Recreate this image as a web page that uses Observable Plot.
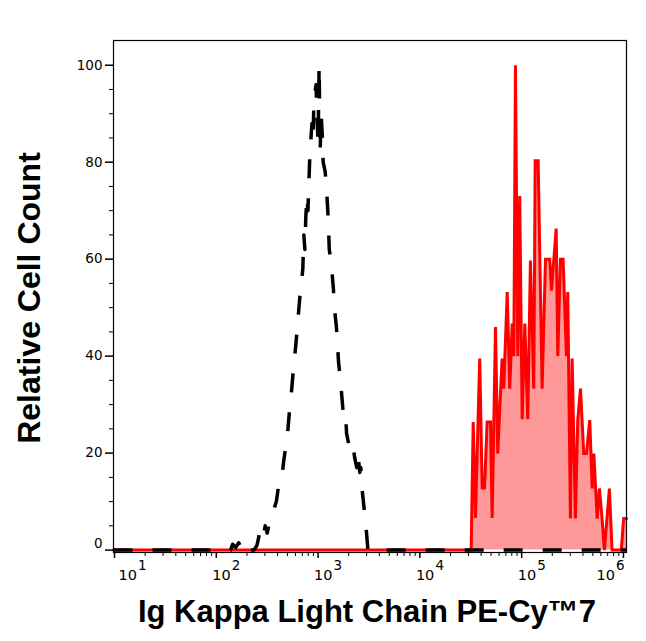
<!DOCTYPE html>
<html>
<head>
<meta charset="utf-8">
<script src="https://cdn.jsdelivr.net/npm/d3@7"></script>
<script src="https://cdn.jsdelivr.net/npm/@observablehq/plot@0.6"></script>
<style>
  html, body { margin: 0; padding: 0; background: #fff; }
</style>
</head>
<body>
<div id="chart"></div>
<script>
// ---- data (x as log10 exponent, y as relative cell count) ----
const blackLog = [0.99, 2.14, 2.16, 2.19, 2.22, 2.25, 2.28, 2.31, 2.37, 2.40, 2.43, 2.46, 2.48, 2.50, 2.53, 2.56, 2.59, 2.61, 2.64, 2.66, 2.68, 2.70, 2.72, 2.74, 2.76, 2.78, 2.80, 2.82, 2.84, 2.85, 2.86, 2.87, 2.88, 2.89, 2.90, 2.92, 2.94, 2.95, 2.96, 2.98, 2.99, 3.00, 3.01, 3.02, 3.03, 3.04, 3.05, 3.07, 3.09, 3.10, 3.11, 3.13, 3.15, 3.16, 3.18, 3.19, 3.20, 3.22, 3.24, 3.25, 3.27, 3.28, 3.30, 3.32, 3.34, 3.36, 3.38, 3.39, 3.41, 3.42, 3.43, 3.45, 3.47, 3.49, 6.03];
const blackCount = [0, 0, 1.2, 0.5, 1.5, 0.3, 1.3, 0, 0, 1, 4, 2.5, 5, 3.5, 6.5, 8, 10, 13, 14, 18, 21, 24, 29, 33, 38, 42, 47, 52, 56, 58, 65, 62, 69, 73, 70, 82, 88, 85, 93, 96, 89, 84, 100, 82, 90, 86, 80, 78, 72, 68, 62, 59, 54, 50, 46, 43, 39, 35, 30, 27.5, 28, 24, 22, 21, 22, 19, 17, 20, 16, 17, 13, 9, 5, 0, 0];

const redLog = [0.99, 4.504, 4.524, 4.546, 4.588, 4.612, 4.635, 4.661, 4.694, 4.710, 4.743, 4.765, 4.808, 4.824, 4.858, 4.883, 4.907, 4.923, 4.939, 4.962, 4.981, 5.005, 5.031, 5.060, 5.086, 5.119, 5.133, 5.162, 5.201, 5.234, 5.276, 5.293, 5.339, 5.355, 5.381, 5.407, 5.440, 5.453, 5.479, 5.496, 5.528, 5.551, 5.578, 5.610, 5.637, 5.669, 5.693, 5.709, 5.742, 5.764, 5.790, 5.813, 5.862, 5.888, 5.979, 6.002, 6.03];
const redCount = [0, 0, 26.4, 6.6, 39.5, 12.8, 12.8, 26.4, 26.4, 6.6, 46, 19.9, 39.5, 33.3, 53.2, 33.3, 46.7, 40, 100, 40, 73, 27, 46.7, 27, 59.7, 33.3, 80.3, 80.3, 33.3, 60, 60, 53.5, 66.3, 40, 60, 60, 40, 53.2, 6.5, 39.5, 6.5, 26.8, 33.3, 19.9, 19.9, 26.8, 12.7, 19.9, 6.5, 12.7, 6.5, 0, 12.7, 0, 0, 6.5, 6.5];

const decades = [1, 2, 3, 4, 5, 6];
const yTicks = [0, 20, 40, 60, 80, 100];
const xTitle = "Ig Kappa Light Chain PE-Cy™7";
const yTitle = "Relative Cell Count";

// ---- tables ----
const black = blackLog.map((e, i) => ({x: 10 ** e, y: blackCount[i]}));
const red = redLog.map((e, i) => ({x: 10 ** e, y: redCount[i]}));
const xMinor = [];
for (let d = 0; d <= 6; d++) for (let m = 2; m <= 9; m++) {
  const v = m * 10 ** d;
  if (v > 10 ** 0.99 && v < 10 ** 6.03) xMinor.push(v);
}
const yMinor = d3.range(0, 105, 5).filter(v => v % 20 !== 0);

const first = decades[0], last = decades[decades.length - 1];
const inner = decades.filter(d => d !== first && d !== last);
const tickFont = "DejaVu Sans";

const chart = Plot.plot({
  width: 646,
  height: 641,
  marginLeft: 113,
  marginRight: 20,
  marginTop: 40,
  marginBottom: 89,
  style: {fontFamily: tickFont, fontSize: "13px", background: "#fff", color: "#000"},
  x: {type: "log", domain: [10 ** 0.99, 10 ** 6.03]},
  y: {domain: [-0.5, 105.1]},
  marks: [
    Plot.areaY(red, {x: "x", y: "y", fill: "#ff9999"}),
    Plot.line(red, {x: "x", y: "y", stroke: "#ff0000", strokeWidth: 3, strokeLinejoin: "miter", strokeMiterlimit: 4}),
    Plot.line(black, {x: "x", y: "y", stroke: "#000", strokeWidth: 3.5, strokeDasharray: "19,20", strokeLinecap: "butt"}),
    Plot.frame({stroke: "#000", strokeWidth: 1.2}),
    // y axis
    Plot.axisY({ticks: yTicks, tickSize: 8, tickPadding: 3, fontSize: 13.5, label: null,
      tickFormat: d => d === 0 ? "" : String(d), strokeWidth: 1.5}),
    Plot.axisY({ticks: yMinor, tickSize: 4, tickFormat: () => "", label: null}),
    Plot.text([0], {y: d => d, frameAnchor: "left", text: d => String(d), textAnchor: "end", dx: -11, dy: -6, fontSize: 13.5}),
    // x axis ticks
    Plot.axisX({ticks: decades.map(d => 10 ** d), tickSize: 6, tickFormat: () => "", label: null, strokeWidth: 1.5}),
    Plot.axisX({ticks: xMinor, tickSize: 4, tickFormat: () => "", label: null}),
    // x tick labels "10" + superscript exponent
    Plot.text(inner, {x: d => 10 ** d, frameAnchor: "bottom", text: () => "10", textAnchor: "start", lineAnchor: "bottom", dx: -4, dy: 27, fontSize: 14.5}),
    Plot.text(inner, {x: d => 10 ** d, frameAnchor: "bottom", text: d => String(d), textAnchor: "start", lineAnchor: "bottom", dx: 15.5, dy: 17.5, fontSize: 13.5}),
    Plot.text([first], {x: d => 10 ** d, frameAnchor: "bottom", text: () => "10", textAnchor: "start", lineAnchor: "bottom", dx: 4, dy: 27, fontSize: 14.5}),
    Plot.text([first], {x: d => 10 ** d, frameAnchor: "bottom", text: d => String(d), textAnchor: "start", lineAnchor: "bottom", dx: 23.5, dy: 17.5, fontSize: 13.5}),
    Plot.text([last], {x: d => 10 ** d, frameAnchor: "bottom", text: () => "10", textAnchor: "start", lineAnchor: "bottom", dx: -27, dy: 27, fontSize: 14.5}),
    Plot.text([last], {x: d => 10 ** d, frameAnchor: "bottom", text: d => String(d), textAnchor: "start", lineAnchor: "bottom", dx: -7.5, dy: 17.5, fontSize: 13.5}),
    // titles
    Plot.text([xTitle], {frameAnchor: "bottom", text: d => d, textAnchor: "middle", lineAnchor: "bottom", dx: -3, dy: 69,
      fontFamily: "Liberation Sans", fontWeight: "bold", fontSize: 31}),
    Plot.text([yTitle], {frameAnchor: "left", text: d => d, textAnchor: "middle", lineAnchor: "bottom", rotate: -90, dx: -74, dy: 1.5,
      fontFamily: "Liberation Sans", fontWeight: "bold", fontSize: 32})
  ]
});
document.getElementById("chart").appendChild(chart);
</script>
</body>
</html>
